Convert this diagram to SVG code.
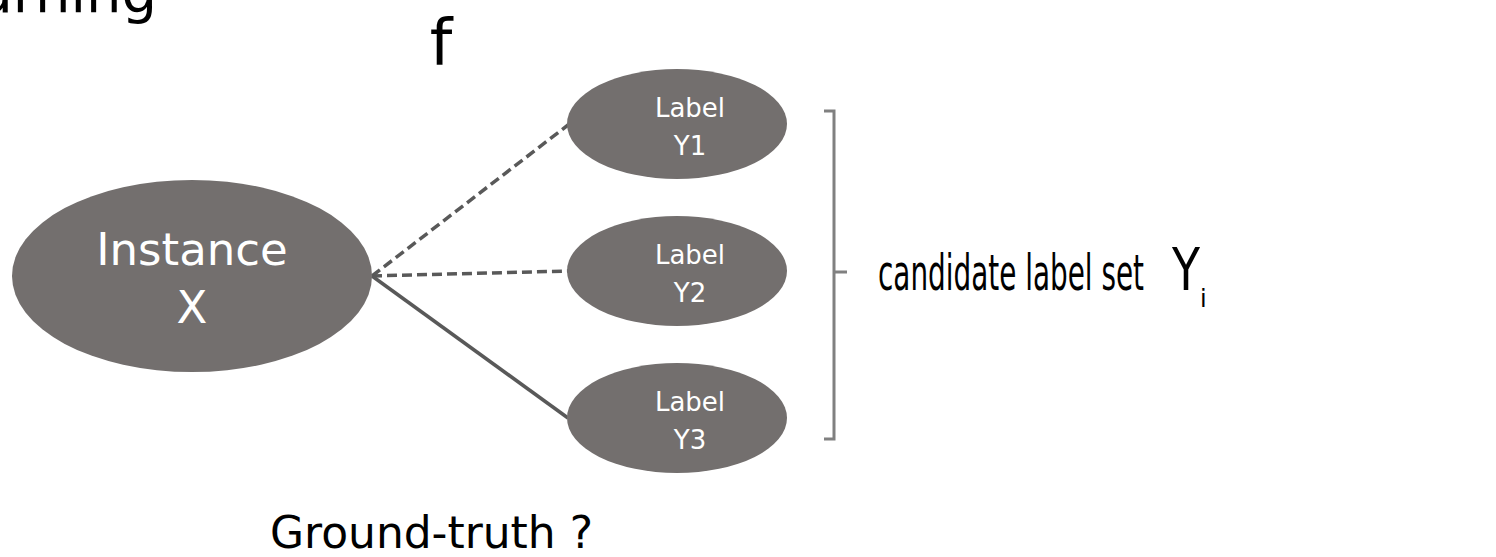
<svg xmlns="http://www.w3.org/2000/svg" width="1496" height="557" viewBox="0 0 1496 557">
  <style>
    .node { fill: #736f6e; }
    .ntext { fill: #ffffff; font-family: "DejaVu Sans", "Liberation Sans", sans-serif; text-anchor: middle; }
    .btext { fill: #000000; font-family: "DejaVu Sans", "Liberation Sans", sans-serif; }
    .edge { stroke: #595959; stroke-width: 3.5; fill: none; }
    .dashed { stroke-dasharray: 10 5; }
    .bracket { stroke: #808080; stroke-width: 3; fill: none; }
  </style>
  <rect width="1496" height="557" fill="#ffffff"/>
  <text class="btext" x="157" y="12" font-size="56" text-anchor="end">arning</text>
  <text class="btext" x="441" y="65" font-size="64" text-anchor="middle">f</text>
  <g id="connectors">
    <line class="edge dashed" x1="372" y1="276" x2="568" y2="125"/>
    <line class="edge dashed" x1="372" y1="276" x2="568" y2="271"/>
    <line class="edge" x1="372" y1="276" x2="568" y2="418"/>
  </g>
  <g id="instance">
    <ellipse class="node" cx="192" cy="276" rx="180" ry="96"/>
    <text class="ntext" x="192" y="265" font-size="45">Instance</text>
    <text class="ntext" x="192" y="323" font-size="45">X</text>
  </g>
  <g id="label-y1">
    <ellipse class="node" cx="677" cy="124" rx="110" ry="55"/>
    <text class="ntext" x="690" y="117" font-size="26">Label</text>
    <text class="ntext" x="690" y="155" font-size="26">Y1</text>
  </g>
  <g id="label-y2">
    <ellipse class="node" cx="677" cy="271" rx="110" ry="55"/>
    <text class="ntext" x="690" y="264" font-size="26">Label</text>
    <text class="ntext" x="690" y="302" font-size="26">Y2</text>
  </g>
  <g id="label-y3">
    <ellipse class="node" cx="677" cy="418" rx="110" ry="55"/>
    <text class="ntext" x="690" y="411" font-size="26">Label</text>
    <text class="ntext" x="690" y="449" font-size="26">Y3</text>
  </g>
  <g id="candidate-set">
    <path class="bracket" d="M824 111 H834 V439 H824 M834 272 H847"/>
    <text class="btext" x="878" y="290" font-size="50" textLength="266" lengthAdjust="spacingAndGlyphs">candidate label set</text>
    <text class="btext" x="1172" y="290" font-size="58" textLength="28" lengthAdjust="spacingAndGlyphs">Y</text>
    <text class="btext" x="1200" y="307" font-size="24">i</text>
  </g>
  <text class="btext" x="270" y="548" font-size="44" textLength="323" lengthAdjust="spacingAndGlyphs">Ground-truth ?</text>
</svg>
